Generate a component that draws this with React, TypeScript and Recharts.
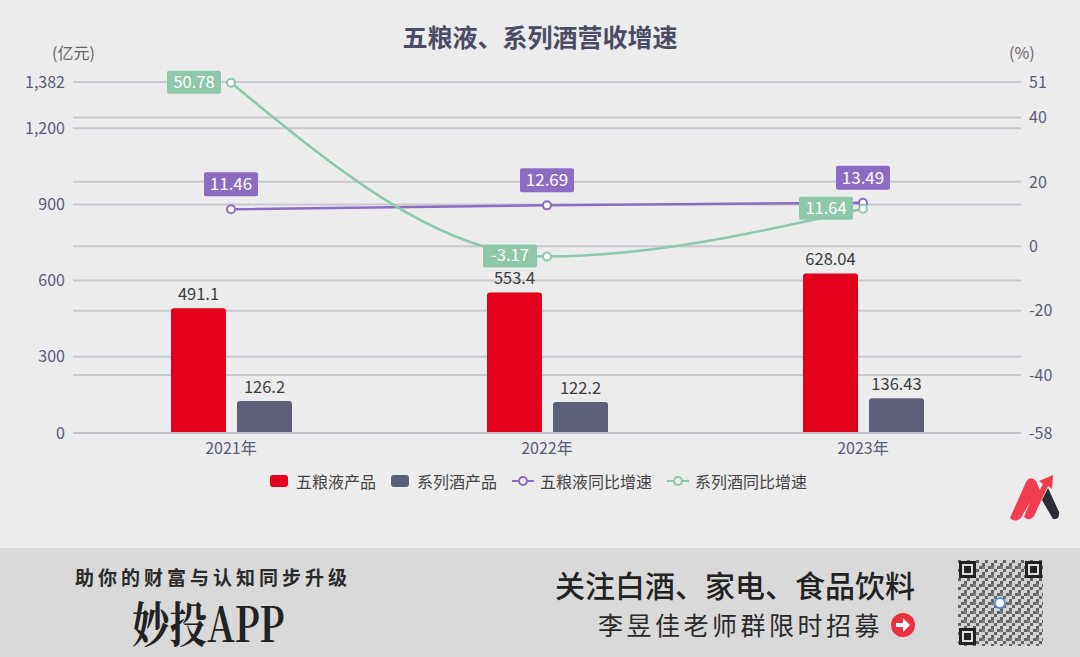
import React from 'react'
import {
  ComposedChart,
  Bar,
  Line,
  XAxis,
  YAxis,
  CartesianGrid,
  LabelList,
} from 'recharts'

const years = ['2021年', '2022年', '2023年']
const wlyRevenue = [491.1, 553.4, 628.04]
const seriesRevenue = [126.2, 122.2, 136.43]
const wlyGrowth = [11.46, 12.69, 13.49]
const seriesGrowth = [50.78, -3.17, 11.64]
const leftTicks = [0, 300, 600, 900, 1200, 1382]
const rightTicks = [-58, -40, -20, 0, 20, 40, 51]
const seriesNames = ['五粮液产品', '系列酒产品', '五粮液同比增速', '系列酒同比增速']

const RED = '#e2001a'
const SLATE = '#5d5f78'
const PURPLE = '#8c6cc3'
const GREEN = '#8fc7aa'
const FONT = '"Noto Sans CJK SC", "Noto Sans", sans-serif'

const data = years.map((year, i) => ({
  year,
  wly: wlyRevenue[i],
  series: seriesRevenue[i],
  wlyG: wlyGrowth[i],
  seriesG: seriesGrowth[i],
}))

const boxWidth = (v: any) => String(v).length * 8.8 + 10

function PurpleTag(props: any) {
  const { x, y, value } = props
  const w = boxWidth(value)
  return (
    <g>
      <rect x={x - w / 2} y={y - 37} width={w} height={24} rx={2} fill={PURPLE} />
      <text x={x} y={y - 19} textAnchor="middle" fill="#fff" fontSize={17} fontFamily={FONT}>
        {value}
      </text>
    </g>
  )
}

function GreenTag(props: any) {
  const { x, y, value } = props
  const w = boxWidth(value)
  return (
    <g>
      <rect x={x - 10 - w} y={y - 12} width={w} height={23} rx={2} fill={GREEN} />
      <text x={x - 10 - w / 2} y={y + 5} textAnchor="middle" fill="#fff" fontSize={16.5} fontFamily={FONT}>
        {value}
      </text>
    </g>
  )
}

function LegendItem({ kind, color, name }: { kind: 'bar' | 'line'; color: string; name: string }) {
  return (
    <div style={{ display: 'flex', alignItems: 'center', marginRight: 15 }}>
      {kind === 'bar' ? (
        <div style={{ width: 18, height: 12, borderRadius: 3, background: color, marginRight: 8 }} />
      ) : (
        <svg width={22} height={12} style={{ marginRight: 6 }}>
          <line x1={0} y1={6} x2={22} y2={6} stroke={color} strokeWidth={2} />
          <circle cx={11} cy={6} r={4} fill="#ececec" stroke={color} strokeWidth={2} />
        </svg>
      )}
      <span>{name}</span>
    </div>
  )
}

export default function App() {
  return (
    <div
      style={{
        position: 'absolute',
        left: 0,
        top: 0,
        width: 1080,
        height: 657,
        background: '#ececec',
        fontFamily: FONT,
        overflow: 'hidden',
      }}
    >
      <div
        style={{
          position: 'absolute',
          top: 18,
          width: 1080,
          textAlign: 'center',
          fontSize: 25,
          fontWeight: 700,
          color: '#4b4b63',
        }}
      >
        五粮液、系列酒营收增速
      </div>
      <div style={{ position: 'absolute', left: 52, top: 40, fontSize: 16, color: '#666' }}>(亿元)</div>
      <div style={{ position: 'absolute', left: 1009, top: 40, fontSize: 16, color: '#666' }}>(%)</div>

      <div style={{ position: 'absolute', left: 0, top: 0 }}>
        <ComposedChart
          width={1080}
          height={500}
          data={data}
          margin={{ top: 82, right: 9, bottom: 37, left: 13 }}
          barSize={55}
          barGap={11}
        >
          <CartesianGrid yAxisId="left" vertical={false} stroke="#c8c8d2" strokeWidth={2} />
          <CartesianGrid yAxisId="right" vertical={false} stroke="#c8c8d2" strokeWidth={2} />
          <XAxis
            dataKey="year"
            xAxisId={0}
            height={30}
            tickLine={false}
            axisLine={{ stroke: '#c2c2ce', strokeWidth: 2 }}
            tick={{ fill: '#5a5b78', fontSize: 16, fontFamily: FONT }}
            tickMargin={4}
          />
          <YAxis
            yAxisId="left"
            orientation="left"
            width={60}
            domain={[0, 1382]}
            ticks={leftTicks}
            interval={0}
            axisLine={false}
            tickLine={false}
            tickFormatter={(v: number) => v.toLocaleString('en-US')}
            tick={{ fill: '#5a5b78', fontSize: 16, fontFamily: FONT }}
          />
          <YAxis
            yAxisId="right"
            orientation="right"
            width={50}
            domain={[-58, 51]}
            ticks={rightTicks}
            interval={0}
            axisLine={false}
            tickLine={false}
            tick={{ fill: '#5a5b78', fontSize: 16, fontFamily: FONT }}
          />
          <Bar yAxisId="left" dataKey="wly" name={seriesNames[0]} fill={RED} radius={[3, 3, 0, 0]} isAnimationActive={false}>
            <LabelList dataKey="wly" position="top" offset={8} fill="#3c3c3c" fontSize={16.5} fontFamily={FONT} />
          </Bar>
          <Bar yAxisId="left" dataKey="series" name={seriesNames[1]} fill={SLATE} radius={[3, 3, 0, 0]} isAnimationActive={false}>
            <LabelList dataKey="series" position="top" offset={8} fill="#3c3c3c" fontSize={16.5} fontFamily={FONT} />
          </Bar>
          <Line
            yAxisId="right"
            type="linear"
            dataKey="wlyG"
            name={seriesNames[2]}
            stroke={PURPLE}
            strokeWidth={2.5}
            dot={{ r: 4, fill: '#fff', stroke: PURPLE, strokeWidth: 2 }}
            isAnimationActive={false}
          >
            <LabelList dataKey="wlyG" content={PurpleTag} />
          </Line>
          <Line
            yAxisId="right"
            type="monotone"
            dataKey="seriesG"
            name={seriesNames[3]}
            stroke={GREEN}
            strokeWidth={2.5}
            dot={{ r: 4, fill: '#fff', stroke: GREEN, strokeWidth: 2 }}
            isAnimationActive={false}
          >
            <LabelList dataKey="seriesG" content={GreenTag} />
          </Line>
        </ComposedChart>
      </div>

      <div
        style={{
          position: 'absolute',
          top: 469,
          width: 1080,
          display: 'flex',
          justifyContent: 'center',
          fontSize: 16,
          color: '#444',
          paddingLeft: 12,
          boxSizing: 'border-box',
        }}
      >
        <LegendItem kind="bar" color={RED} name={seriesNames[0]} />
        <LegendItem kind="bar" color={SLATE} name={seriesNames[1]} />
        <LegendItem kind="line" color={PURPLE} name={seriesNames[2]} />
        <LegendItem kind="line" color={GREEN} name={seriesNames[3]} />
      </div>

      {/* logo */}
      <svg style={{ position: 'absolute', left: 1005, top: 472 }} width={56} height={52}>
        <path d="M5 46 L21 10 Q25 3 31 9 L35 18 L38 12 L34 9 L48 3 L47 17 L43 14 L29 44 Q25 50 19 45 L25 30 L16 46 Q10 51 5 46 Z" fill="#f23d50" />
        <path d="M43 16 L54 40 Q55 48 48 47 L37 28 Z" fill="#2b2d36" />
      </svg>

      {/* bottom banner */}
      <div style={{ position: 'absolute', left: 0, top: 548, width: 1080, height: 109, background: '#d9d9d9' }}>
        <div
          style={{
            position: 'absolute',
            left: 75,
            top: 19,
            fontSize: 19,
            lineHeight: 1,
            fontWeight: 700,
            color: '#2a2a2a',
            letterSpacing: 4,
          }}
        >
          助你的财富与认知同步升级
        </div>
        <div
          style={{
            position: 'absolute',
            left: 132,
            top: 50,
            fontSize: 48,
            lineHeight: 1,
            fontWeight: 700,
            color: '#222',
            fontFamily: '"Noto Serif CJK SC", "Liberation Serif", serif',
            transform: 'scaleX(0.78)',
            transformOrigin: 'left',
          }}
        >
          妙投APP
        </div>
        <div style={{ position: 'absolute', left: 555, top: 14, fontSize: 30, fontWeight: 500, color: '#222' }}>
          关注白酒、家电、食品饮料
        </div>
        <div style={{ position: 'absolute', left: 598, top: 58, fontSize: 25, color: '#2a2a2a', letterSpacing: 3.5 }}>
          李昱佳老师群限时招募
        </div>
        <svg style={{ position: 'absolute', left: 890, top: 64 }} width={26} height={26}>
          <circle cx={13} cy={13} r={12} fill="#ee2f3f" />
          <path d="M6 11 L13 11 L13 6 L20 13 L13 20 L13 15 L6 15 Z" fill="#fff" />
        </svg>
        <svg style={{ position: 'absolute', left: 958, top: 12 }} width={85} height={86}>
          <defs>
            <pattern id="qr" width={9} height={9} patternUnits="userSpaceOnUse">
              <rect x={0} y={0} width={3} height={3} fill="#333" />
              <rect x={6} y={3} width={3} height={3} fill="#333" />
              <rect x={3} y={6} width={3} height={3} fill="#333" />
              <rect x={6} y={6} width={3} height={3} fill="#555" />
            </pattern>
          </defs>
          <rect x={0} y={0} width={85} height={86} fill="#d2d2d2" />
          <rect x={0} y={0} width={85} height={86} fill="url(#qr)" opacity={0.7} />
          {[
            [1, 1],
            [67, 1],
            [1, 68],
          ].map(([cx, cy], i) => (
            <g key={i}>
              <rect x={cx} y={cy} width={17} height={17} fill="#222" />
              <rect x={cx + 3} y={cy + 3} width={11} height={11} fill="#ddd" />
              <rect x={cx + 5} y={cy + 5} width={7} height={7} fill="#222" />
            </g>
          ))}
          <circle cx={42} cy={43} r={5} fill="#fff" stroke="#5b8fd8" strokeWidth={2} />
        </svg>
      </div>
    </div>
  )
}
